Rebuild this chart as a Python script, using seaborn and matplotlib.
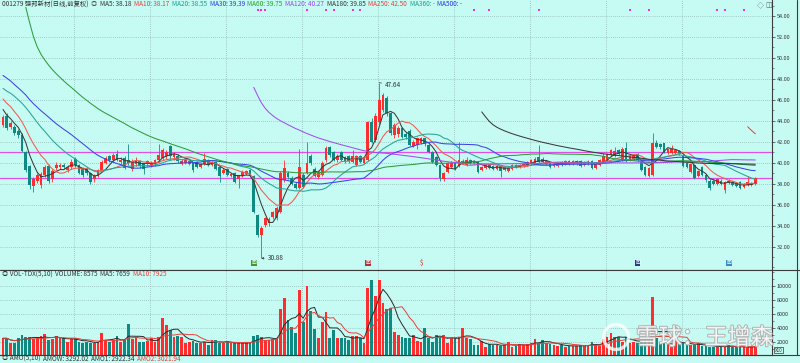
import numpy as np
import pandas as pd
import matplotlib
matplotlib.use('Agg')
import matplotlib.pyplot as plt
import matplotlib.patheffects as pe
import seaborn as sns
from matplotlib.transforms import IdentityTransform
from matplotlib.ticker import FormatStrFormatter, MultipleLocator
from matplotlib.lines import Line2D
from matplotlib.patches import Circle

# daily bars of 001279 (forward adjusted)
opens = [43.6, 44.5, 43.4, 43.4, 43.0, 42.6, 41.0, 39.7, 37.8, 38.3,
         37.9, 38.8, 39.7, 38.4, 39.5, 39.6, 39.8, 39.3, 39.6, 40.35,
         39.8, 39.5, 39.4, 39.0, 38.4, 38.7, 39.3, 40.0, 40.6, 40.25,
         40.8, 40.1, 40.45, 40.3, 39.4, 39.9, 40.2, 39.9, 39.9, 39.8,
         39.9, 40.25, 40.45, 40.6, 41.6, 40.5, 40.6, 39.9, 40.0, 39.9,
         40.0, 40.1, 39.6, 39.9, 40.3, 39.8, 40.1, 39.6, 39.0, 39.4,
         38.7, 39.0, 38.4, 38.7, 38.9, 39.3, 38.7, 35.0, 33.1, 34.05,
         34.2, 34.8, 34.7, 35.3, 38.35, 39.0, 38.5, 38.0, 37.6, 38.8,
         39.0, 40.6, 39.4, 38.6, 38.8, 40.25, 41.5, 41.0, 40.3, 41.0,
         40.5, 40.6, 40.1, 39.8, 40.6, 40.0, 40.25, 43.9, 42.2, 43.9,
         45.0, 46.2, 44.7, 42.6, 42.7, 43.3, 42.7, 43.0, 41.6, 41.7,
         41.9, 42.35, 41.7, 41.05, 40.5, 39.8, 38.45, 39.15, 39.6, 40.0,
         39.7, 40.0, 39.8, 40.3, 40.2, 40.1, 39.3, 39.5, 39.8, 39.7,
         39.4, 39.7, 39.3, 39.2, 39.4, 39.8, 39.6, 39.7, 39.8, 39.9,
         40.0, 40.5, 40.4, 39.9, 40.0, 39.7, 39.7, 40.1, 39.9, 40.2,
         39.9, 39.9, 40.2, 39.8, 39.9, 40.2, 39.5, 39.8, 40.1, 40.3,
         40.7, 40.6, 41.2, 40.3, 41.4, 40.3, 40.4, 40.8, 40.1, 39.6,
         38.7, 38.8, 41.9, 41.8, 41.85, 40.9, 40.9, 40.9, 41.1, 40.6,
         40.0, 39.15, 39.8, 38.7, 39.6, 38.8, 38.3, 38.3, 37.95, 38.3,
         37.4, 38.3, 38.2, 38.1, 38.2, 37.7, 37.9, 37.9, 38.0]
highs = [44.6, 44.7, 44.0, 43.6, 43.2, 42.8, 41.1, 39.8, 38.6, 39.0,
         39.1, 39.8, 39.9, 39.4, 40.1, 40.0, 40.0, 39.8, 40.4, 40.5,
         39.9, 39.6, 39.6, 39.1, 38.9, 39.4, 40.3, 40.6, 40.7, 40.9,
         41.2, 40.5, 40.6, 41.8, 40.4, 40.5, 40.3, 40.0, 40.3, 40.2,
         40.4, 41.8, 41.4, 41.2, 41.7, 41.0, 40.8, 40.4, 40.4, 40.3,
         40.1, 40.2, 40.0, 40.9, 40.4, 40.2, 40.2, 39.7, 39.5, 39.5,
         39.0, 39.1, 38.8, 39.3, 39.3, 39.4, 38.8, 35.1, 34.0, 34.8,
         34.8, 35.4, 35.9, 39.2, 40.3, 39.2, 38.7, 38.2, 41.3, 39.0,
         42.0, 40.8, 39.6, 39.3, 40.2, 41.6, 41.6, 41.1, 40.8, 41.1,
         40.6, 40.7, 41.2, 40.7, 40.7, 40.6, 44.0, 44.3, 44.7, 47.64,
         46.7, 46.4, 44.8, 43.8, 43.5, 43.4, 42.9, 43.2, 42.2, 42.5,
         42.5, 42.4, 41.8, 41.1, 40.6, 39.9, 39.1, 40.1, 40.2, 40.1,
         42.0, 40.4, 40.5, 40.4, 40.3, 40.2, 39.7, 39.9, 39.9, 39.8,
         39.8, 39.8, 39.7, 39.6, 39.9, 39.9, 39.9, 40.0, 40.2, 40.4,
         40.5, 41.7, 40.5, 40.3, 40.1, 40.0, 40.1, 40.2, 40.3, 40.3,
         40.3, 40.3, 40.3, 40.2, 40.3, 40.3, 40.0, 40.4, 40.9, 40.9,
         41.3, 41.5, 41.3, 41.5, 42.0, 40.7, 40.8, 40.9, 40.2, 39.7,
         39.6, 42.86, 42.2, 41.9, 41.9, 41.4, 41.7, 41.3, 41.2, 40.7,
         40.1, 40.0, 39.9, 39.3, 39.7, 38.9, 38.4, 38.4, 38.5, 38.4,
         38.3, 38.4, 38.3, 38.2, 38.3, 38.1, 38.7, 38.2, 38.6]
lows = [43.4, 43.1, 43.2, 42.6, 42.4, 41.0, 39.1, 37.5, 37.2, 38.1,
        37.6, 38.6, 38.1, 38.2, 39.3, 39.4, 39.4, 39.1, 39.4, 39.6,
        38.9, 38.6, 38.8, 38.0, 38.2, 38.6, 39.2, 39.9, 40.1, 40.1,
        40.2, 39.9, 39.4, 39.8, 39.2, 39.7, 39.5, 38.9, 39.7, 39.6,
        39.7, 40.1, 40.3, 40.4, 40.4, 40.3, 40.0, 39.8, 39.9, 39.8,
        39.1, 39.5, 39.5, 39.8, 39.7, 39.7, 39.3, 38.2, 38.9, 38.7,
        38.6, 38.1, 37.6, 38.6, 38.8, 38.6, 35.2, 32.9, 30.88, 33.9,
        34.0, 34.6, 34.5, 35.2, 38.2, 38.4, 37.9, 37.5, 37.5, 37.6,
        38.9, 39.8, 38.6, 38.4, 38.7, 40.1, 40.5, 40.2, 40.1, 40.2,
        40.0, 40.0, 40.0, 39.7, 40.0, 39.9, 40.2, 41.9, 42.0, 43.7,
        44.8, 44.5, 42.6, 42.4, 42.5, 42.4, 42.3, 41.6, 41.5, 41.3,
        41.8, 41.6, 40.9, 40.0, 39.7, 38.3, 38.3, 39.0, 39.5, 39.3,
        39.6, 39.9, 39.7, 39.9, 39.9, 39.0, 39.2, 39.4, 39.4, 39.3,
        39.3, 38.65, 39.2, 39.1, 39.3, 39.5, 39.5, 39.6, 39.7, 39.8,
        39.9, 40.0, 40.0, 39.8, 39.5, 39.6, 39.6, 39.7, 39.8, 39.8,
        39.8, 39.8, 39.6, 39.7, 39.8, 39.4, 39.4, 39.7, 40.0, 40.2,
        40.6, 40.5, 40.7, 40.2, 40.1, 40.2, 40.3, 40.2, 39.2, 38.7,
        38.6, 38.7, 41.4, 41.3, 40.9, 40.8, 40.8, 40.8, 40.7, 39.6,
        39.5, 39.0, 38.4, 38.6, 38.7, 38.2, 37.4, 37.9, 37.9, 37.9,
        37.1, 38.0, 37.8, 37.7, 37.5, 37.6, 37.8, 37.8, 37.9]
closes = [44.4, 43.3, 43.8, 42.8, 42.6, 41.1, 39.3, 37.9, 38.4, 38.8,
          38.9, 39.6, 38.3, 39.2, 39.8, 39.8, 39.6, 39.6, 40.1, 39.8,
          39.0, 38.8, 39.0, 38.2, 38.7, 39.3, 40.1, 40.45, 40.3, 40.7,
          40.3, 40.3, 39.5, 40.0, 40.2, 40.3, 39.7, 39.4, 40.2, 40.0,
          40.25, 40.7, 41.2, 41.0, 40.6, 40.8, 40.2, 40.2, 40.3, 40.2,
          39.3, 39.6, 39.9, 40.4, 39.8, 40.1, 39.4, 38.7, 39.3, 38.8,
          38.9, 38.2, 38.7, 39.15, 39.2, 38.7, 35.3, 33.1, 33.8, 34.7,
          34.6, 35.3, 35.7, 39.0, 39.5, 38.6, 38.0, 37.6, 39.6, 37.7,
          40.0, 40.0, 38.7, 39.1, 40.0, 41.4, 40.7, 40.3, 40.6, 40.3,
          40.2, 40.2, 40.6, 40.6, 40.1, 40.5, 43.9, 42.0, 44.5, 46.0,
          46.5, 44.7, 42.8, 43.6, 43.3, 42.5, 42.5, 41.7, 42.0, 42.35,
          42.35, 41.8, 41.05, 40.1, 39.8, 38.5, 39.0, 40.0, 40.0, 39.4,
          40.3, 40.2, 40.3, 40.0, 40.0, 39.15, 39.6, 39.8, 39.5, 39.4,
          39.7, 39.2, 39.6, 39.5, 39.8, 39.6, 39.8, 39.9, 40.1, 40.3,
          40.4, 40.1, 40.1, 40.2, 39.6, 39.9, 40.0, 39.8, 40.2, 39.9,
          40.2, 40.2, 39.7, 40.1, 40.1, 39.5, 39.9, 40.3, 40.6, 40.8,
          41.2, 41.1, 40.8, 41.3, 40.2, 40.6, 40.7, 40.3, 39.3, 38.8,
          39.5, 41.85, 41.5, 41.5, 41.05, 41.3, 41.3, 41.2, 40.8, 39.7,
          39.6, 39.9, 38.5, 39.2, 38.8, 38.35, 37.55, 38.0, 38.45, 38.0,
          38.2, 38.1, 37.9, 37.8, 37.55, 38.0, 38.2, 38.1, 38.5]
# closes before the visible window (only feed the long moving averages)
prior_close = [125, 118, 98, 82,
               72, 68, 65, 63, 61, 60, 59, 58, 59, 58,
               57, 56, 55, 54, 55, 54, 53, 52, 53, 52, 51, 52, 53, 52, 51, 50, 51, 50,
               49, 49, 48.5, 48, 48.5, 49, 48, 47.5, 47, 48, 48.5, 48, 47.5, 47,
               47.5, 47, 46.5, 46, 45.5, 45, 44.5]
volumes = [2480, 2480, 1760, 1855, 2480, 2960, 2620, 2620, 2335, 2480,
           2810, 3100, 2240, 2335, 2810, 2480, 2480, 2000, 2335, 2480,
           2000, 1855, 2000, 1760, 1855, 2000, 3200, 2240, 2000, 2240,
           2810, 2000, 2240, 4550, 2335, 2720, 2000, 2000, 2140, 2480,
           2000, 2720, 5360, 4400, 3680, 2720, 2810, 2620, 1760, 2000,
           2140, 1855, 1855, 2000, 1520, 2240, 2240, 1855, 1760, 2000,
           1760, 1760, 1760, 1760, 1855, 2000, 2810, 2960, 2620, 2240,
           2240, 2335, 2480, 6660, 8240, 5120, 4160, 3200, 9440, 4880,
           10010, 6460, 3780, 2480, 4880, 6320, 2480, 3680, 2480, 2480,
           2480, 2240, 2810, 2810, 2480, 1760, 9770, 10880, 8580, 10880,
           7520, 6660, 6800, 3440, 2960, 2720, 2480, 2480, 2960, 2140,
           2000, 3930, 2480, 2000, 2960, 2620, 2960, 1855, 2480, 2480,
           2720, 3970, 2480, 2335, 1520, 1520, 2140, 1280, 1660, 1520,
           1520, 1375, 1520, 2000, 1190, 1375, 1660, 1520, 1660, 1855,
           2335, 1760, 2240, 1855, 1660, 1520, 1375, 1520, 1280, 1375,
           1375, 1375, 1520, 1375, 1520, 2000, 1520, 1375, 2335, 2620,
           3200, 2720, 2620, 2000, 2720, 1855, 2000, 1855, 2000, 2240,
           2000, 8480, 2480, 2000, 2335, 2000, 1855, 2000, 1660, 1760,
           1660, 1520, 1520, 1760, 1375, 1375, 1280, 1190, 1280, 1375,
           1280, 1520, 1190, 1190, 1190, 1190, 1280, 1280, 1375]

ma_periods = [5, 10, 20, 30, 60, 120, 180, 250]
ma_colors = ['#3a3a3a', '#ef5a50', '#26a597', '#3b44e6', '#2e9c3a', '#a24ef0', '#3a3a3a', '#e34545']
header_labels = ['MA5: 38.18', 'MA10: 38.17', 'MA20: 38.55', 'MA30: 39.39', 'MA60: 39.75',
                 'MA120: 40.27', 'MA180: 39.85', 'MA250: 42.50', 'MA360: -', 'MA500: -']
header_colors = ['#333333', '#e83c3c', '#1c9c8c', '#2832e6', '#20a020',
                 '#9b45e8', '#333333', '#e83c3c', '#1c9c8c', '#2832e6']
guide_levels = [41.0, 38.5]
signal_bars = [67, 68, 69, 80, 85, 87, 92, 94, 124, 128, 141, 165, 170, 188, 190, 195]
event_bars = [66, 96, 110, 167, 191]
event_colors = ['#3a9a30', '#b0303a', '#e02020', '#2c3c80', '#3a8ac8']

BG = '#c6fbf3'
RED = '#ff2e2e'
TEAL = '#0f8a83'
W, H = 800, 363

sns.set_theme(style='white')
plt.rcParams['font.family'] = ['Noto Sans CJK SC', 'DejaVu Sans']
plt.rcParams['axes.unicode_minus'] = False

fig = plt.figure(figsize=(W / 100, H / 100), dpi=100, facecolor=BG)
ax = fig.add_axes([0, 93 / H, 772 / W, 270 / H])
axv = fig.add_axes([0, 8.5 / H, 772 / W, 84.5 / H])

o = np.array(opens); hi = np.array(highs); lo = np.array(lows); c = np.array(closes)
idx = np.arange(len(c))
up = c >= o
cols = np.where(up, RED, TEAL)

# candles
ax.vlines(idx, lo, hi, colors=cols, lw=0.6, zorder=3)
ax.bar(idx, np.maximum(np.abs(c - o), 0.04), bottom=np.minimum(o, c), width=0.72,
       color=cols, linewidth=0, zorder=3)

# moving averages
all_close = pd.Series(prior_close + closes, dtype=float)
for n, col in zip(ma_periods, ma_colors):
    ma = all_close.rolling(n).mean().iloc[len(prior_close):].to_numpy()
    if np.isfinite(ma).sum() > 1:
        sns.lineplot(x=idx, y=ma, ax=ax, color=col, linewidth=0.75, zorder=4)

for lvl in guide_levels:
    ax.axhline(lvl, color='#e24ee6', lw=0.9, zorder=2)

# highest / lowest marks
imax = int(np.argmax(hi)); imin = int(np.argmin(lo))
ax.annotate(f'{hi[imax]:.2f}', xy=(imax, hi[imax]), xytext=(imax + 1.5, hi[imax] - 0.2),
            fontsize=4.6, color='#333333', va='center',
            arrowprops=dict(arrowstyle='-', lw=0.5, color='#333333', shrinkA=0, shrinkB=0))
ax.annotate(f'{lo[imin]:.2f}', xy=(imin, lo[imin]), xytext=(imin + 1.6, lo[imin]),
            fontsize=4.6, color='#333333', va='center',
            arrowprops=dict(arrowstyle='->', lw=0.5, color='#333333', shrinkA=0, shrinkB=0,
                            mutation_scale=3))

ax.scatter(signal_bars, [54.6] * len(signal_bars), marker='s', s=1.6, color='#ff2ccf', lw=0, zorder=5)
for b, ec in zip(event_bars, event_colors):
    if b == 110:
        ax.text(b, 30.45, '$', fontsize=4.5, color=ec, ha='center', va='center')
    else:
        ax.text(b, 30.45, '回', fontsize=3.4, color='white', ha='center', va='center',
                bbox=dict(boxstyle='square,pad=0.12', fc=ec, ec='none'))

# volume
vdf = pd.DataFrame({'bar': idx, 'vol': volumes, 'dir': np.where(up, 'up', 'down')})
sns.barplot(data=vdf, x='bar', y='vol', hue='dir', palette={'up': RED, 'down': TEAL},
            dodge=False, width=0.72, saturation=1, errorbar=None, legend=False,
            linewidth=0, ax=axv)
vs = pd.Series(volumes, dtype=float)
sns.lineplot(x=idx, y=vs.rolling(5, min_periods=1).mean().to_numpy(), ax=axv,
             color='#2a2a2a', linewidth=0.7)
sns.lineplot(x=idx, y=vs.rolling(10, min_periods=1).mean().to_numpy(), ax=axv,
             color='#e8403c', linewidth=0.7)

grid_kw = dict(color='#7f9e9c', ls=(0, (1, 2)), lw=0.5)
for a in (ax, axv):
    a.set_facecolor(BG)
    a.set_xlim(-0.79, 202.4)
    a.set_xticks(np.arange(18.7, 190, 20))
    a.tick_params(axis='x', length=0, labelbottom=False)
    a.set_xlabel(''); a.set_ylabel('')
    a.yaxis.tick_right()
    a.tick_params(axis='y', which='major', length=2, width=0.5, color='#333333',
                  labelsize=4.0, labelcolor='#333333', pad=1.2)
    a.tick_params(axis='y', which='minor', length=1.2, width=0.4, color='#333333', right=True)
    a.grid(True, which='major', **grid_kw)
    a.set_axisbelow(True)
    for s in ('left', 'top'):
        a.spines[s].set_visible(False)
    for s in ('right', 'bottom'):
        a.spines[s].set_color('#3c3c3c'); a.spines[s].set_linewidth(0.8)

ax.set_ylim(29.76, 55.53)
ax.set_yticks(np.arange(32, 55, 2))
ax.yaxis.set_minor_locator(MultipleLocator(1))
ax.yaxis.set_major_formatter(FormatStrFormatter('%.2f'))
axv.set_ylim(150, 12300)
axv.set_yticks([2000, 4000, 6000, 8000, 10000])
axv.yaxis.set_minor_locator(MultipleLocator(1000))
axv.yaxis.set_major_formatter(FormatStrFormatter('%d'))

# frame lines across the right strip
for y in (270, 354.5):
    fig.add_artist(Line2D([0, 1], [(H - y) / H] * 2, color='#3c3c3c', lw=0.8, transform=fig.transFigure))
fig.add_artist(Line2D([797 / W] * 2, [8.5 / H, 1], color='#3c3c3c', lw=0.8, transform=fig.transFigure))


def row(parts, x, y_top, size):
    r = fig.canvas.get_renderer()
    for s, col in parts:
        t = fig.text(x, H - y_top, s, color=col, fontsize=size, ha='left', va='center',
                     transform=IdentityTransform(), zorder=10)
        x += t.get_window_extent(r).width + 2.6


row([('001279 强邦新材(日线,前复权)', '#333333'), ('◎', '#555555')] +
    list(zip(header_labels, header_colors)), 2, 4.5, 4.6)
row([('◎ VOL-TDX(5,10)', '#333333'), ('VOLUME: 8575', '#333333'), ('MA5: 7659', '#333333'),
     ('MA10: 7925', '#e83c3c')], 2, 274.5, 4.6)
row([('◎ AMO(5,10)', '#333333'), ('AMOW: 3292.02', '#333333'), ('AMO1: 2922.34', '#333333'),
     ('AMO2: 3021.94', '#e83c3c')], 2, 358.8, 4.6)

fig.text(757, H - 5, '◇', fontsize=5, color='#666666', transform=IdentityTransform(), va='center')
fig.text(765, H - 5, '◫', fontsize=5, color='#666666', transform=IdentityTransform(), va='center')
fig.text(775, H - 350.3, 'X10', fontsize=3.3, color='#333333', transform=IdentityTransform(), va='center',
         bbox=dict(boxstyle='square,pad=0.15', fc='none', ec='#333333', lw=0.5))

# watermark
fig.text(636, H - 338, '雪球：王增森', fontsize=16.5, color='white', alpha=0.85, va='center',
         transform=IdentityTransform(), zorder=20,
         path_effects=[pe.withStroke(linewidth=1.4, foreground='#a8a8a8')])
fig.patches.append(Circle((616, H - 337), 12.5, transform=IdentityTransform(), fill=False,
                          ec='white', lw=2.4, alpha=0.8, zorder=20))

fig.savefig('out.png', dpi=100, facecolor=BG)
